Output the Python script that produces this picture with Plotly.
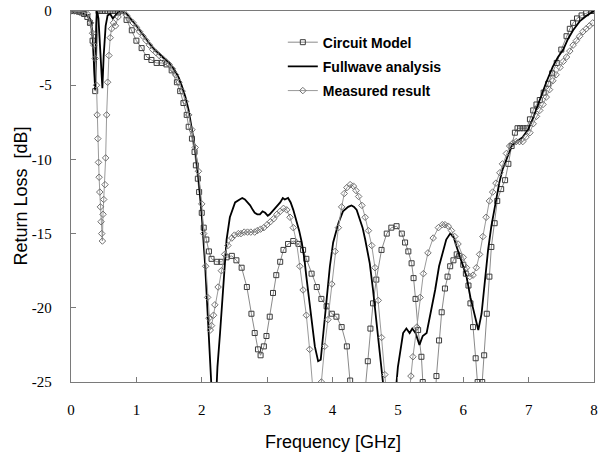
import plotly.graph_objects as go

# ---------------- data ----------------
circuit_f = [0, 0.04, 0.08, 0.12, 0.16, 0.2, 0.25, 0.29, 0.33, 0.37, 0.42, 0.47, 0.52, 0.57, 0.62, 0.67,
             0.72, 0.77, 0.85, 0.93, 1.0, 1.08, 1.16, 1.23, 1.31, 1.39, 1.46, 1.54, 1.62, 1.67, 1.72,
             1.77, 1.80, 1.85, 1.89, 1.91, 1.94, 1.96, 2.0, 2.03, 2.07, 2.11, 2.15, 2.23, 2.30, 2.38,
             2.46, 2.53, 2.61, 2.69, 2.76, 2.81, 2.86, 2.90, 2.95, 2.99, 3.04, 3.09, 3.14, 3.20, 3.25,
             3.32, 3.40, 3.48, 3.55, 3.60, 3.68, 3.76, 3.83, 3.91, 3.99, 4.06, 4.14, 4.22, 4.27, 4.32,
             4.45, 4.50, 4.54, 4.58, 4.62, 4.67, 4.75, 4.83, 4.90, 4.98, 5.06, 5.11, 5.16, 5.21, 5.24,
             5.27, 5.31, 5.36, 5.38, 5.42, 5.50, 5.56, 5.59, 5.63, 5.67, 5.72, 5.76, 5.80, 5.85, 5.90,
             5.94, 6.0, 6.04, 6.08, 6.11, 6.15, 6.19, 6.22, 6.25, 6.29, 6.32, 6.36, 6.40, 6.43, 6.48,
             6.52, 6.58, 6.64, 6.69, 6.74, 6.79, 6.83, 6.87, 6.92, 6.97, 7.02, 7.07, 7.12, 7.17, 7.23,
             7.30, 7.36, 7.43, 7.50, 7.58, 7.63, 7.68, 7.74, 7.81, 7.88, 7.96, 8.0]
circuit_db = [0, 0, 0, -0.05, -0.1, -0.2, -0.4, -0.8, -2.0, -5.4, 0, 0, 0, 0, 0, 0,
              -0.1, 0, -0.6, -1.3, -2.0, -2.5, -3.1, -3.3, -3.5, -3.5, -3.6, -4.0, -4.8, -5.4, -6.2,
              -7.0, -7.8, -8.6, -9.5, -10.4, -11.3, -12.2, -13.6, -14.6, -15.4, -16.2, -16.7, -16.9, -16.9, -16.6,
              -16.5, -16.8, -17.3, -18.6, -20.4, -21.7, -22.8, -23.2, -22.6, -21.9, -20.6, -19.0, -17.8, -16.9, -16.1,
              -15.7, -15.5, -15.7, -16.1, -16.7, -17.7, -18.6, -19.4, -19.9, -20.4, -20.6, -21.3, -22.6, -24.9, -27.5,
              -29.0, -25.5, -23.6, -21.4, -19.7, -18.1, -16.1, -15.0, -14.6, -14.5, -15.0, -15.6, -16.2, -17.0, -18.0,
              -19.4, -21.5, -23.3, -25.0, -28.0, -30.0, -27.0, -24.6, -22.2, -20.3, -18.7, -17.9, -17.2, -16.8, -16.4,
              -16.5, -17.1, -17.7, -18.5, -19.7, -21.3, -23.4, -25.0, -27.0, -25.0, -23.2, -20.4, -17.9, -15.9, -14.3,
              -12.8, -12.0, -11.4, -10.3, -9.1, -8.2, -7.9, -7.9, -7.9, -7.9, -7.3, -6.7, -6.3, -6.0, -5.5,
              -4.9, -4.2, -3.5, -2.6, -1.7, -1.2, -0.8, -0.5, -0.3, -0.15, 0, 0]

fullwave_f = [0, 0.1, 0.2, 0.25, 0.3, 0.33, 0.355, 0.37, 0.385, 0.395, 0.42, 0.45, 0.48, 0.5, 0.53, 0.56,
              0.6, 0.64, 0.68, 0.72, 0.78, 0.85, 0.9, 1.0, 1.05, 1.1, 1.15, 1.2, 1.3, 1.4, 1.5, 1.6,
              1.65, 1.7, 1.75, 1.8, 1.85, 1.9, 1.95, 2.0, 2.05, 2.1, 2.14, 2.18, 2.22, 2.24, 2.28, 2.33,
              2.38, 2.43, 2.51, 2.58, 2.62, 2.66, 2.7, 2.74, 2.78, 2.81, 2.85, 2.89, 2.93, 2.97, 3.01,
              3.04, 3.08, 3.12, 3.16, 3.2, 3.24, 3.27, 3.32, 3.36, 3.4, 3.45, 3.49, 3.53, 3.57, 3.6,
              3.64, 3.68, 3.73, 3.78, 3.82, 3.86, 3.91, 3.96, 4.01, 4.05, 4.09, 4.16, 4.24, 4.29, 4.33,
              4.37, 4.42, 4.46, 4.5, 4.54, 4.57, 4.62, 4.67, 4.72, 4.77, 4.82, 4.9, 4.96, 5.0, 5.03,
              5.08, 5.13, 5.18, 5.22, 5.27, 5.33, 5.38, 5.44, 5.5, 5.57, 5.63, 5.68, 5.74, 5.8, 5.85,
              5.9, 5.97, 6.05, 6.11, 6.18, 6.23, 6.28, 6.33, 6.38, 6.43, 6.48, 6.55, 6.6, 6.66, 6.74,
              6.81, 6.91, 6.99, 7.07, 7.17, 7.27, 7.37, 7.45, 7.53, 7.6, 7.68, 7.78, 7.89, 8.0]
fullwave_db = [0, -0.05, -0.2, -0.3, -0.6, -1.5, -4.0, -5.3, -1.0, 0, -0.5, -2.5, -5.2, -3.0, -1.0, -0.3,
               -0.2, -0.5, -0.3, -0.1, 0, -0.2, -0.45, -1.0, -1.3, -1.6, -1.9, -2.2, -2.7, -3.1, -3.5, -4.1,
               -4.5, -5.1, -5.8, -6.7, -7.9, -9.3, -11.2, -13.8, -17.0, -21.5, -26.0, -28.0, -26.0, -24.0, -21.7, -18.3,
               -15.4, -13.9, -12.9, -12.7, -12.6, -12.7, -12.9, -13.1, -13.4, -13.6, -13.7, -13.7, -13.5, -13.6, -13.8,
               -13.7, -13.5, -13.3, -13.1, -12.9, -12.6, -12.7, -12.6, -12.9, -13.4, -14.1, -14.8, -15.6, -16.7, -17.9,
               -19.3, -20.6, -22.6, -23.6, -23.5, -21.7, -19.5, -17.2, -15.6, -14.9, -14.3, -13.5, -13.2, -13.1, -13.2,
               -13.4, -14.0, -14.6, -15.4, -16.2, -17.0, -18.8, -20.8, -22.8, -25.0, -27.0, -28.0, -26.0, -24.0, -23.0,
               -21.7, -21.4, -21.7, -21.4, -21.7, -22.5, -21.9, -21.7, -20.4, -18.8, -17.2, -16.4, -15.4, -15.0, -15.2,
               -15.9, -16.8, -17.9, -19.3, -20.6, -21.5, -20.4, -18.1, -16.1, -14.5, -13.2, -11.6, -10.7, -10.0, -9.1,
               -8.8, -8.5, -8.0, -7.2, -6.0, -4.8, -3.75, -3.1, -2.6, -1.9, -1.3, -0.7, -0.3, 0]

measured_f = [0, 0.05, 0.1, 0.15, 0.2, 0.25, 0.3, 0.33, 0.35, 0.37, 0.39, 0.40, 0.41, 0.42, 0.43, 0.44,
              0.45, 0.46, 0.47, 0.48, 0.49, 0.50, 0.52, 0.53, 0.545, 0.56, 0.58, 0.60, 0.62, 0.65, 0.68,
              0.72, 0.76, 0.8, 0.85, 0.9, 0.95, 1.0, 1.05, 1.1, 1.15, 1.2, 1.25, 1.3, 1.35, 1.4, 1.45,
              1.5, 1.55, 1.6, 1.65, 1.7, 1.75, 1.8, 1.85, 1.9, 1.95, 2.0, 2.03, 2.06, 2.09, 2.11, 2.13,
              2.15, 2.18, 2.2, 2.25, 2.3, 2.35, 2.4, 2.46, 2.5, 2.56, 2.6, 2.65, 2.7, 2.75, 2.81, 2.85,
              2.9, 2.95, 3.0, 3.05, 3.1, 3.15, 3.2, 3.25, 3.3, 3.35, 3.4, 3.45, 3.5, 3.55, 3.6, 3.65,
              3.7, 3.75, 3.8, 3.83, 3.88, 3.93, 3.99, 4.04, 4.09, 4.14, 4.18, 4.22, 4.27, 4.32, 4.36,
              4.4, 4.45, 4.5, 4.55, 4.6, 4.65, 4.7, 4.75, 4.8, 4.85, 5.0, 5.15, 5.2, 5.23, 5.29, 5.34,
              5.39, 5.46, 5.54, 5.62, 5.68, 5.72, 5.77, 5.82, 5.87, 5.92, 6.0, 6.05, 6.1, 6.15, 6.2,
              6.25, 6.3, 6.35, 6.4, 6.45, 6.5, 6.56, 6.6, 6.66, 6.71, 6.76, 6.81, 6.86, 6.91, 6.96,
              7.02, 7.07, 7.12, 7.17, 7.22, 7.27, 7.32, 7.37, 7.42, 7.48, 7.53, 7.58, 7.63, 7.68, 7.73,
              7.78, 7.83, 7.88, 7.93, 7.98]
measured_db = [0, 0, 0, -0.05, -0.1, -0.2, -0.8, -1.5, -2.3, -3.2, -5.0, -7.0, -8.6, -10.2, -11.2, -12.2,
               -13.2, -14.2, -15.0, -15.5, -13.7, -12.7, -11.7, -9.9, -7.0, -4.8, -3.0, -1.8, -1.2, -0.8, -1.0,
               -0.4, 0, 0, -0.3, -0.6, -0.8, -1.1, -1.4, -1.7, -2.0, -2.3, -2.6, -2.8, -3.0, -3.2, -3.4,
               -3.6, -3.9, -4.3, -4.8, -5.4, -6.1, -7.0, -8.0, -9.2, -10.8, -13.0, -15.0, -17.2, -19.3, -20.7, -21.5,
               -21.2, -20.5, -19.8, -18.6, -17.5, -16.4, -15.8, -15.3, -15.1, -15.0, -15.0, -14.9, -14.9, -14.9, -14.9, -14.8,
               -14.7, -14.6, -14.4, -14.2, -14.0, -13.7, -13.5, -13.3, -13.4, -13.9, -14.6, -15.6, -17.2, -18.8, -20.5, -22.8,
               -25.5, -27.0, -26.0, -25.0, -22.6, -20.8, -18.4, -16.2, -14.6, -13.2, -12.3, -11.9, -11.7, -11.8, -12.1,
               -12.5, -13.1, -13.9, -14.8, -15.8, -17.3, -19.5, -22.0, -24.5, -27.0, -30.0, -27.0, -24.6, -23.3, -21.3, -19.3,
               -17.7, -16.3, -15.3, -14.6, -14.4, -14.4, -14.5, -14.8, -15.2, -15.7, -16.6, -17.3, -17.9, -17.8, -17.3,
               -16.4, -15.2, -13.9, -12.8, -12.2, -11.6, -10.9, -10.3, -9.6, -9.1, -8.9, -8.8, -8.8, -8.8, -8.5,
               -8.2, -7.6, -7.1, -6.7, -6.3, -5.8, -5.3, -4.7, -4.3, -3.8, -3.4, -3.1, -2.7, -2.3, -2.0,
               -1.7, -1.4, -1.2, -1.0, -0.8]

x_ticks = [0, 1, 2, 3, 4, 5, 6, 7, 8]
y_ticks = [0, -5, -10, -15, -20, -25]
y_tick_text = ["0", "-5", "-10", "-15", "-20", "-25"]

# ---------------- figure ----------------
fig = go.Figure()
fig.add_trace(go.Scatter(
    x=circuit_f, y=circuit_db, name="Circuit Model", mode="lines+markers",
    line=dict(color="#8a8a8a", width=1),
    marker=dict(symbol="square-open", size=5, color="#3c3c3c", line=dict(width=1)),
    legendgroup="a"))
fig.add_trace(go.Scatter(
    x=fullwave_f, y=fullwave_db, name="Fullwave analysis", mode="lines",
    line=dict(color="#000000", width=1.8),
    legendgroup="b"))
fig.add_trace(go.Scatter(
    x=measured_f, y=measured_db, name="Measured result", mode="lines+markers",
    line=dict(color="#9a9a9a", width=1),
    marker=dict(symbol="diamond-open", size=5, color="#707070", line=dict(width=1)),
    legendgroup="c"))

axis_common = dict(showgrid=False, zeroline=False, showline=True, linecolor="#7a7a7a",
                   linewidth=1.3, mirror=True, ticks="inside", ticklen=5, tickcolor="#7a7a7a",
                   tickfont=dict(family="Liberation Serif, Times New Roman, serif", size=15, color="#000"))

fig.update_xaxes(range=[0, 8], tickvals=x_ticks, ticklabelstandoff=14, **axis_common)
fig.update_yaxes(range=[-25, 0], tickvals=y_ticks, ticktext=y_tick_text, ticklabelstandoff=15,
                 **axis_common)

fig.update_layout(
    width=600, height=457,
    margin=dict(l=71, r=6, t=11, b=75, autoexpand=False),
    paper_bgcolor="white", plot_bgcolor="white",
    showlegend=True,
    legend=dict(x=0.405, y=0.958, xanchor="left", yanchor="top", bgcolor="rgba(0,0,0,0)",
                font=dict(family="Liberation Sans, Arial, sans-serif", size=14, color="#000",
                          weight="bold"),
                tracegroupgap=3, itemwidth=30),
    annotations=[
        dict(text="Frequency [GHz]", xref="paper", yref="paper", x=0.5, y=-0.162,
             xanchor="center", yanchor="middle", showarrow=False,
             font=dict(family="Liberation Sans, Arial, sans-serif", size=18, color="#000")),
        dict(text="Return Loss  [dB]", xref="paper", yref="paper", x=-0.0975, y=0.5,
             xanchor="center", yanchor="middle", showarrow=False, textangle=-90,
             font=dict(family="Liberation Sans, Arial, sans-serif", size=18, color="#000")),
    ],
)
# remove the default page margin so the 600x457 figure fills the window exactly
fig.write_html("out.html",
               config={"displayModeBar": False},
               post_script="document.body.style.margin='0';document.body.style.overflow='hidden';")
